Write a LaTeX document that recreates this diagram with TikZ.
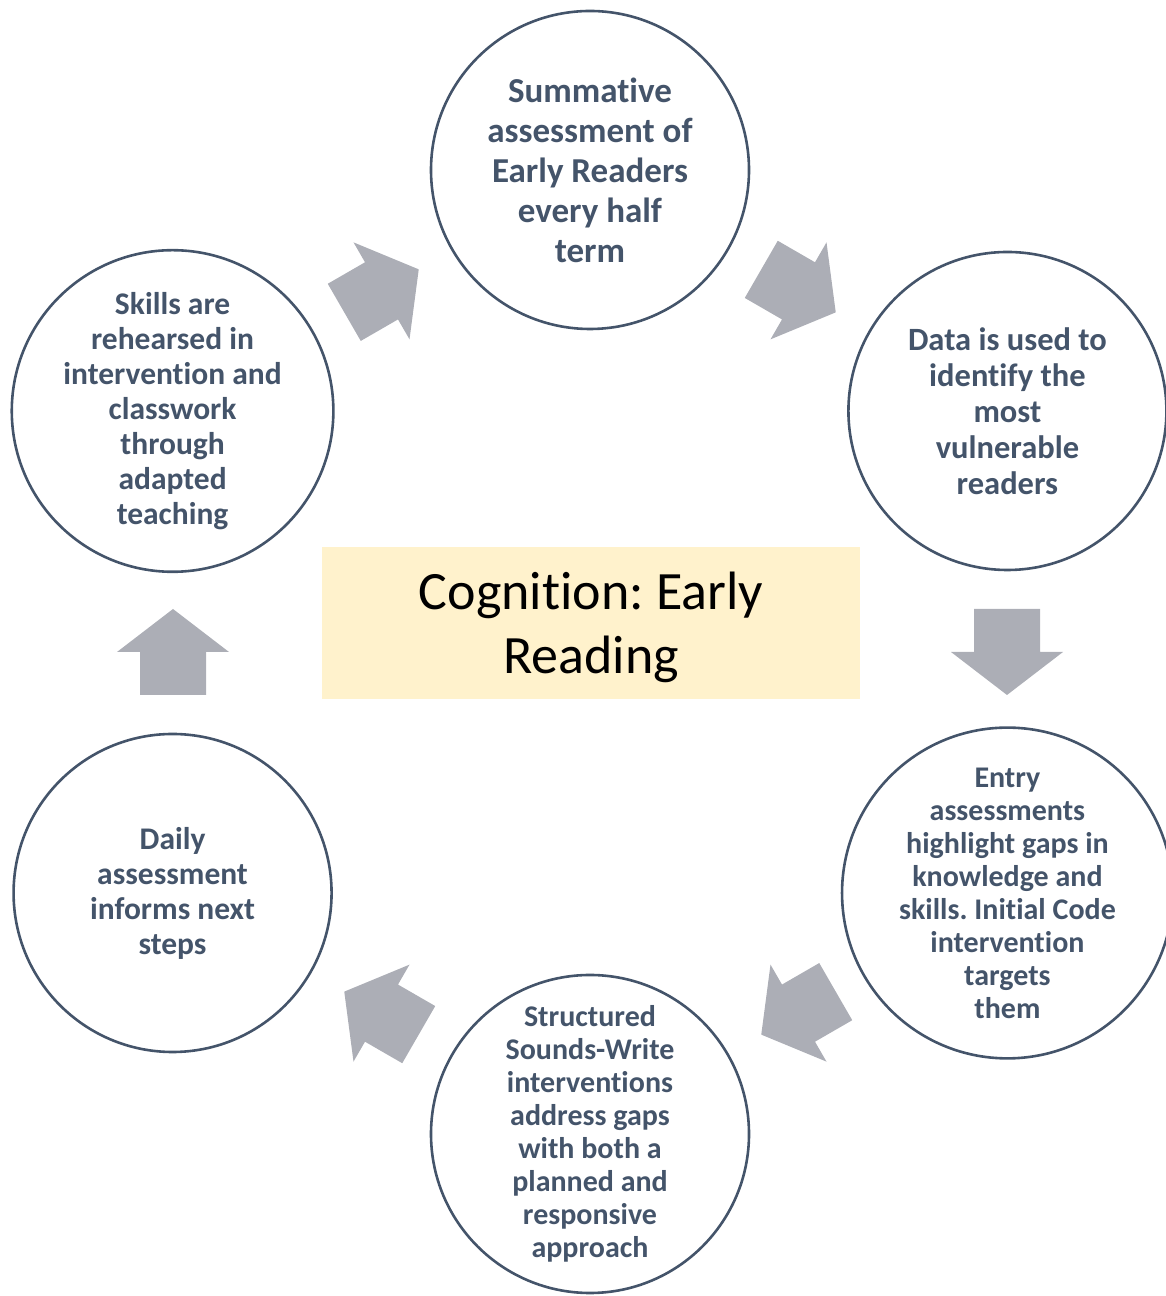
\documentclass[tikz,border=0pt]{standalone}
\usepackage{fontspec}
\setmainfont{Carlito}[Ligatures=NoCommon]
\usetikzlibrary{calc}
\frenchspacing
\definecolor{slate}{RGB}{68,84,106}
\definecolor{arrowgray}{RGB}{172,174,182}
\definecolor{titlefill}{RGB}{255,242,204}
\tikzset{
  stage/.style={circle, draw=slate, line width=2.6pt, minimum size=318pt, inner sep=0pt,
    align=center, text=slate},
  fbig/.style={font=\bfseries\fontsize{35}{40}\selectfont},
  fmid/.style={font=\bfseries\fontsize{32.5}{36}\selectfont},
  fsmall/.style={font=\bfseries\fontsize{30}{33}\selectfont},
  fmed/.style={font=\bfseries\fontsize{31.5}{35}\selectfont},
  blockarrowfill/.style={fill=arrowgray},
}
\newcommand\blockarrow[2]{%
  \fill[blockarrowfill, shift={(#1)}, rotate=#2]
    (-43,-33) -- (0,-33) -- (0,-56) -- (43,0) -- (0,56) -- (0,33) -- (-43,33) -- cycle;}
\begin{document}
\begin{tikzpicture}[x=1pt,y=1pt]
\useasboundingbox (0,0) rectangle (1166,1296);
\coordinate (O) at (590,644);
% stages
\node[stage, fbig] (c1) at ($(O)+(90:482)$) {Summative\\assessment of\\Early Readers\\every half\\term};
\node[stage, fmid] (c2) at ($(O)+(30:482)$) {Data is used to\\identify the\\most\\vulnerable\\readers};
\node[stage, fsmall] (c3) at ($(O)+(-30:482)$) {Entry\\assessments\\highlight gaps in\\knowledge and\\skills. Initial Code\\intervention\\targets\\them};
\node[stage, fsmall] (c4) at ($(O)+(-90:482)$) {Structured\\Sounds-Write\\interventions\\address gaps\\with both a\\planned and\\responsive\\approach};
\node[stage, fmed] (c5) at ($(O)+(-150:482)$) {Daily\\assessment\\informs next\\steps};
\node[stage, fmed] (c6) at ($(O)+(150:482)$) {Skills are\\rehearsed in\\intervention and\\classwork\\through\\adapted\\teaching};
% centre title
\node[fill=titlefill, minimum width=538pt, minimum height=152pt, inner sep=0pt] (title) at (591,673) {};
\node[align=center, inner sep=0pt, font=\fontsize{54}{64}\selectfont] (titletext) at ($(title.center)+(0,-4)$) {Cognition: Early\\Reading};
% arrows between stages
\coordinate (a1) at ($(O)+(60:417)$);
\coordinate (a2) at ($(O)+(0:417)$);
\coordinate (a3) at ($(O)+(-60:417)$);
\coordinate (a4) at ($(O)+(-120:417)$);
\coordinate (a5) at ($(O)+(180:417)$);
\coordinate (a6) at ($(O)+(120:417)$);
\blockarrow{a1}{-30}
\blockarrow{a2}{-90}
\blockarrow{a3}{-150}
\blockarrow{a4}{150}
\blockarrow{a5}{90}
\blockarrow{a6}{30}
\end{tikzpicture}
\end{document}
